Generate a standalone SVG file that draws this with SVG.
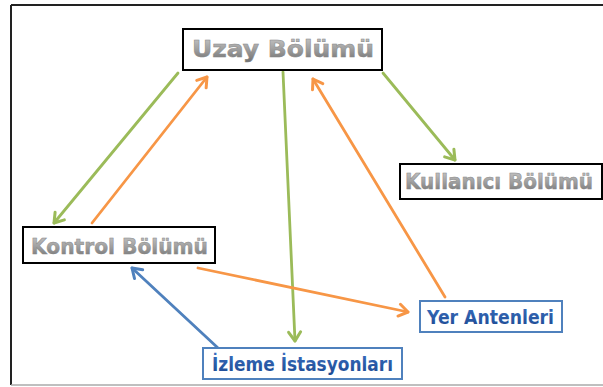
<svg xmlns="http://www.w3.org/2000/svg" width="603" height="387" viewBox="0 0 603 387">
  <defs>
    <linearGradient id="gray" x1="0" y1="0" x2="0" y2="1">
      <stop offset="0" stop-color="#c8c8c8"/>
      <stop offset="0.5" stop-color="#a0a0a0"/>
      <stop offset="1" stop-color="#707070"/>
    </linearGradient>
    <linearGradient id="blue" x1="0" y1="0" x2="0" y2="1">
      <stop offset="0" stop-color="#3a6fc0"/>
      <stop offset="1" stop-color="#1c4890"/>
    </linearGradient>
    <marker id="mg" markerUnits="userSpaceOnUse" markerWidth="20" markerHeight="20" refX="0" refY="0" viewBox="-12 -10 14 20" orient="auto" overflow="visible">
      <path d="M-9,-6 L0,0 L-9,6" fill="none" stroke="#9bbb59" stroke-width="3" stroke-linecap="round" stroke-linejoin="round"/>
    </marker>
    <marker id="mo" markerUnits="userSpaceOnUse" markerWidth="20" markerHeight="20" refX="0" refY="0" viewBox="-12 -10 14 20" orient="auto" overflow="visible">
      <path d="M-9,-6 L0,0 L-9,6" fill="none" stroke="#f79646" stroke-width="3" stroke-linecap="round" stroke-linejoin="round"/>
    </marker>
    <marker id="mb" markerUnits="userSpaceOnUse" markerWidth="20" markerHeight="20" refX="0" refY="0" viewBox="-12 -10 14 20" orient="auto" overflow="visible">
      <path d="M-9,-6 L0,0 L-9,6" fill="none" stroke="#4f81bd" stroke-width="3" stroke-linecap="round" stroke-linejoin="round"/>
    </marker>
  </defs>
  <style>
    .box { fill: #ffffff; stroke: #000000; stroke-width: 2; }
    .bbox { fill: #ffffff; stroke: #4f81bd; stroke-width: 2; }
    .gt { font-family: "DejaVu Sans", Verdana, sans-serif; font-weight: bold; fill: url(#gray); stroke: #888888; stroke-width: 0.5; }
    .bt { font-family: "DejaVu Sans", Verdana, sans-serif; font-weight: bold; fill: url(#blue); }
    .c { fill: none; stroke-width: 2.8; stroke-linecap: round; }
    .g { stroke: #9bbb59; marker-end: url(#mg); }
    .o { stroke: #f79646; marker-end: url(#mo); }
    .b { stroke: #4f81bd; marker-end: url(#mb); }
  </style>
  <rect x="0" y="0" width="603" height="387" fill="#ffffff"/>
  <g id="frame">
    <line x1="11" y1="5" x2="603" y2="5" stroke="#222222" stroke-width="2"/>
    <line x1="11" y1="5" x2="11" y2="385" stroke="#222222" stroke-width="2"/>
    <line x1="11" y1="385" x2="603" y2="385" stroke="#aaaaaa" stroke-width="1.5"/>
  </g>
  <g id="connectors">
    <line class="c g" x1="178" y1="73" x2="54" y2="223"/>
    <line class="c o" x1="92" y1="223" x2="207" y2="77"/>
    <line class="c g" x1="283" y1="72" x2="295" y2="341"/>
    <line class="c o" x1="445" y1="297" x2="313" y2="79"/>
    <line class="c g" x1="383" y1="73" x2="455" y2="160"/>
    <line class="c o" x1="198" y1="268" x2="408" y2="312"/>
    <line class="c b" x1="218" y1="348" x2="132" y2="268"/>
  </g>
  <g id="uzay">
    <rect class="box" x="183" y="29" width="199" height="41"/>
    <text class="gt" x="192" y="57" font-size="23" textLength="182" lengthAdjust="spacingAndGlyphs">Uzay Bölümü</text>
  </g>
  <g id="kullanici">
    <rect class="box" x="400" y="164" width="202" height="35"/>
    <text class="gt" x="405" y="189" font-size="21" textLength="188" lengthAdjust="spacingAndGlyphs">Kullanıcı Bölümü</text>
  </g>
  <g id="kontrol">
    <rect class="box" x="23" y="227" width="192" height="36"/>
    <text class="gt" x="31" y="254" font-size="22" textLength="177" lengthAdjust="spacingAndGlyphs">Kontrol Bölümü</text>
  </g>
  <g id="yer">
    <rect class="bbox" x="420" y="301" width="142" height="31"/>
    <text class="bt" x="427" y="324" font-size="20" textLength="127" lengthAdjust="spacingAndGlyphs">Yer Antenleri</text>
  </g>
  <g id="izleme">
    <rect class="bbox" x="203" y="348" width="199" height="31"/>
    <text class="bt" x="212" y="371" font-size="20" textLength="181" lengthAdjust="spacingAndGlyphs">İzleme İstasyonları</text>
  </g>
</svg>
